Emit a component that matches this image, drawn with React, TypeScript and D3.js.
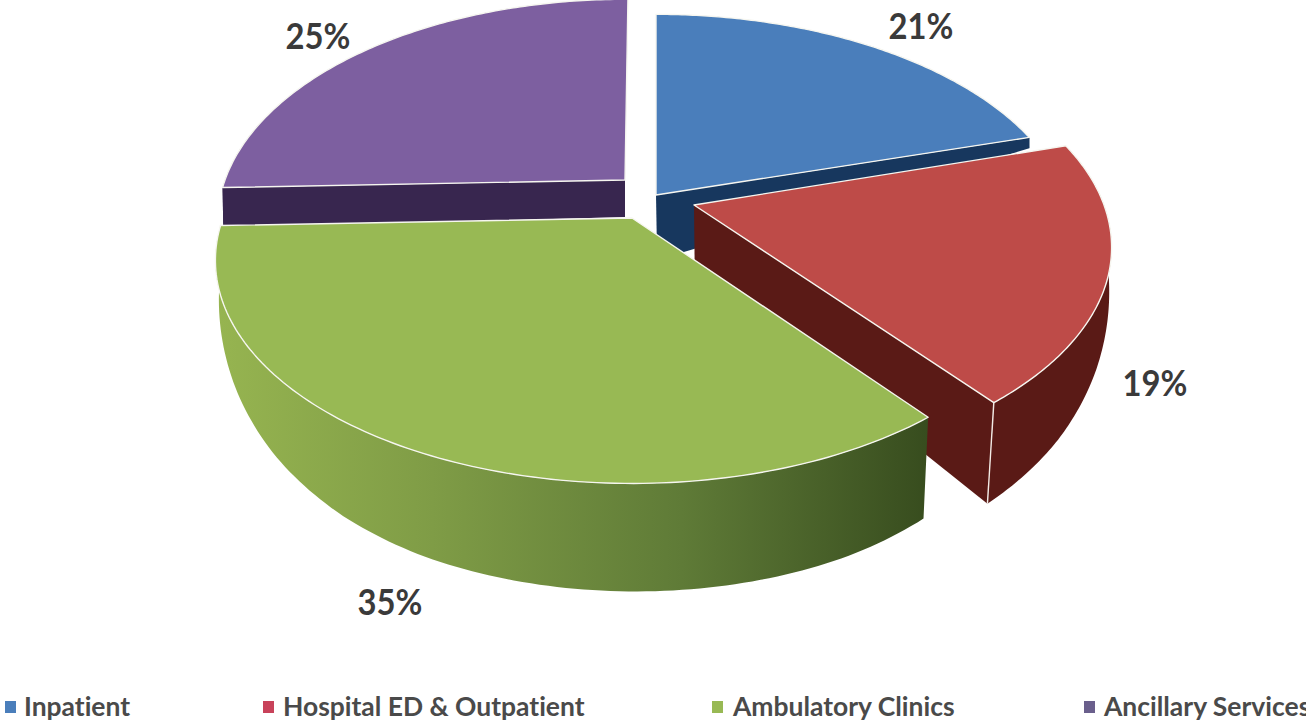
import React from "react";
import * as d3 from "d3";

const categories = ["Inpatient", "Hospital ED & Outpatient", "Ambulatory Clinics", "Ancillary Services"];
const shares = [21, 19, 35, 25];
const percentLabels = ["21%", "19%", "35%", "25%"];

const topColors = ["#4a7ebb", "#be4b48", "#98b954", "#7d5fa0"];
const wallColors = ["#17375e", "#5a1a16", "#5f7a30", "#38264f"];
const legendColors = ["#4a7ebb", "#c8425a", "#98b954", "#6a5f8c"];
const apexX = [656, 694, 632, 625];
const apexY = [195, 205, 218, 180];
const radiusX = [410, 410, 409, 400];
const startTurnDeg = [0, -2.5, -2, -2];
const endTurnDeg = [-2, -2.5, -2, 0.5];
const apexDepth = [65, 65, 37, 37];
const cutFace = ["end", "end", "none", "start"];
const labelX = [921, 1155, 390, 318];
const labelY = [39, 396, 615, 49];
const legendMarkX = [5, 263, 712, 1084];
const legendTextX = [24, 283, 733, 1104];

const K = 0.19;
const RV = 215;
const depthScale = d3.scaleLinear().domain([0, 0.4, 0.6, 0.78, 0.9, 1]).range([37, 74, 90, 101, 106, 108]);

type P = [number, number];
const project = (i: number, a: number): P => {
  const X = Math.sin(a);
  const Y = -Math.cos(a);
  const w = 1 - K * Y;
  return [apexX[i] + (radiusX[i] * X) / w, apexY[i] + (RV * Y) / w];
};
const drop = ([x, y]: P, d: number): P => [x + ((755 - x) / 2400) * Math.max(d - 37, 0), y + d];
const lower = (i: number, a: number): P => drop(project(i, a), depthScale(-Math.cos(a)));

const pieArcs = d3.pie<number>().sort(null)(shares);
const line = d3.line();
const rad = Math.PI / 180;

export default function App() {
  const faces = [0, 3, 1, 2].map((i) => {
    const arc = pieArcs[i];
    const a0 = arc.startAngle + startTurnDeg[i] * rad;
    const a1 = arc.endAngle + endTurnDeg[i] * rad;
    const angles = d3.range(0, 121).map((t) => a0 + ((a1 - a0) * t) / 120);
    const top = angles.map((a) => project(i, a));
    const visible = angles.filter((a) => -Math.cos(a) > -0.3);
    const apex: P = [apexX[i], apexY[i]];
    const apexLow = drop(apex, apexDepth[i]);
    const cutAngle = cutFace[i] === "start" ? a0 : a1;
    const corner = project(i, cutAngle);
    const cornerLow = lower(i, cutAngle);
    const endCorner = project(i, a1);
    const endLow = lower(i, a1);
    return (
      <g key={i}>
        {visible.length > 1 && (
          <path
            d={line([...visible.map((a) => project(i, a)), ...visible.map((a) => lower(i, a)).reverse()]) + "Z"}
            fill={i === 2 ? "url(#greenWall)" : wallColors[i]}
          />
        )}
        {cutFace[i] !== "none" && <path d={line([apex, corner, cornerLow, apexLow]) + "Z"} fill={wallColors[i]} />}
        {(i === 1 || i === 2) && (
          <path d={line([endCorner, endLow]) ?? ""} stroke="#f3ebe6" strokeWidth={1.4} fill="none" />
        )}
        <path
          d={line([apex, ...top]) + "Z"}
          fill={topColors[i]}
          stroke="#f6f6f0"
          strokeWidth={1.4}
          strokeLinejoin="round"
        />
      </g>
    );
  });

  return (
    <svg
      width={1306}
      height={721}
      style={{ position: "fixed", left: 0, top: 0, display: "block", background: "#fff" }}
      fontFamily="Lato, 'Open Sans', sans-serif"
    >
      <defs>
        <linearGradient id="greenWall" gradientUnits="userSpaceOnUse" x1={220} x2={930} y1={0} y2={0}>
          <stop offset="0" stopColor="#96b450" />
          <stop offset="0.3" stopColor="#7f9c46" />
          <stop offset="0.65" stopColor="#5f7b37" />
          <stop offset="1" stopColor="#374c1e" />
        </linearGradient>
      </defs>
      {faces}
      {percentLabels.map((t, i) => (
        <text
          key={t}
          transform={`translate(${labelX[i]},${labelY[i]}) scale(0.91,1)`}
          textAnchor="middle"
          fontSize={36}
          fontWeight={700}
          fill="#3a3a3a"
        >
          {t}
        </text>
      ))}
      {categories.map((c, i) => (
        <g key={c}>
          <rect x={legendMarkX[i]} y={701} width={11} height={12} fill={legendColors[i]} />
          <text
            transform={`translate(${legendTextX[i]},716) scale(0.98,1)`}
            fontSize={27}
            fontWeight={700}
            fill="#4a4a4a"
            style={{ fontVariantLigatures: "none" }}
          >
            {c}
          </text>
        </g>
      ))}
    </svg>
  );
}
